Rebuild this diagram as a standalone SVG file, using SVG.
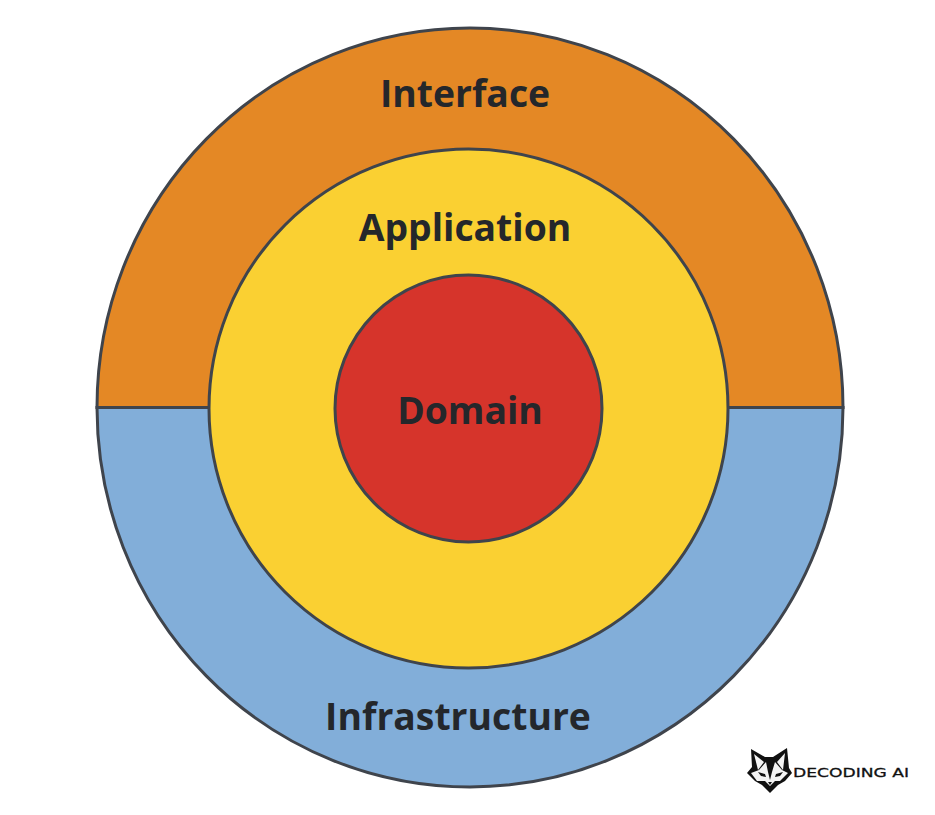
<svg xmlns="http://www.w3.org/2000/svg" width="935" height="815" viewBox="0 0 935 815">
<style>
.s{stroke:#3f444c;stroke-width:3}
.t{font-family:"Open Sans","Noto Sans",sans-serif;font-weight:700;font-size:37.300px;fill:#24272b;text-anchor:middle}
.b{fill:#111}
.w{fill:#f4f4f4}
</style>
<rect width="935" height="815" fill="#fff"/>
<g id="interface">
<path class="s" fill="#e48825" d="M97 407.500A373 379.500 0 0 1 843 407.500Z"/>
<text class="t" x="465" y="107">Interface</text>
</g>
<g id="infrastructure">
<path class="s" fill="#82aed9" d="M97 407.500A373 379.500 0 0 0 843 407.500Z"/>
<text class="t" x="458" y="730">Infrastructure</text>
</g>
<g id="application">
<circle class="s" fill="#fad032" cx="468.500" cy="408.500" r="259.500"/>
<text class="t" x="465" y="241">Application</text>
</g>
<g id="domain">
<circle class="s" fill="#d6342b" cx="468.500" cy="408.500" r="133.500"/>
<text class="t" x="470" y="423.500">Domain</text>
</g>
<g id="logo">
<path class="b" d="M751 749L765 757H773L787 748L789 768L792 773L785 781L778 785L770 793L762 785L755 781L747 773L752 767Z"/>
<path class="w" d="M754 754L764 762L758 770ZM785 753L777 762L783 770ZM759 770L766 762L768 772L770 780L772 772L775 762L782 770L788 773L780 781L775 781L770 786L765 781L757 781L751 773Z"/>
<path class="b" d="M758 772L765 774L766 777L761 776ZM783 772L776 774L775 777L780 776ZM768 782H772L770 785Z"/>
<text x="793" y="776.500" font-family="'DejaVu Sans',sans-serif" font-size="12.500" textLength="116" lengthAdjust="spacingAndGlyphs" fill="#111" stroke="#111" stroke-width=".3">DECODING AI</text>
</g>
</svg>
